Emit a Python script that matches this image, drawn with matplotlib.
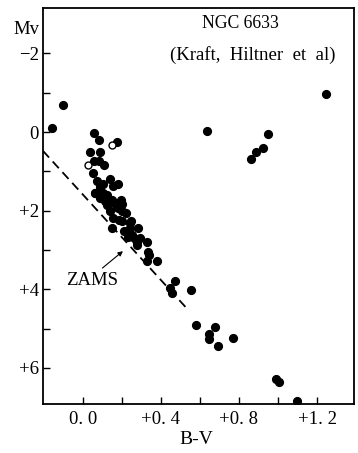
import numpy as np
import matplotlib
matplotlib.use("Agg")
import matplotlib.pyplot as plt

plt.rcParams['font.family'] = ['Liberation Serif', 'DejaVu Serif']

# estrellas (puntos llenos): B-V, Mv
bv = [-0.157, -0.10, 0.058, 0.082, 0.176, 0.036, 0.087, 0.058, 0.084, 0.108,
      0.053, 0.073, 0.138, 0.104, 0.087, 0.155, 0.181, 0.062, 0.087, 0.121,
      0.113, 0.138, 0.164, 0.193, 0.20, 0.18, 0.22, 0.155, 0.186, 0.245,
      0.28, 0.20, 0.24, 0.21, 0.25, 0.27, 0.29, 0.275, 0.327, 0.335,
      0.34, 0.33, 0.38, 0.062, 0.104, 0.147, 0.121, 0.172, 0.138, 0.20,
      0.147, 0.241, 0.259, 0.231, 0.277, 0.472, 0.446, 0.455, 0.552, 0.58,
      0.677, 0.648, 0.648, 0.694, 0.771, 0.99, 1.007, 1.10,
      0.634, 0.95, 0.925, 0.886, 0.86, 1.245]
mv = [-0.10, -0.69, 0.03, 0.20, 0.25, 0.52, 0.52, 0.74, 0.75, 0.84,
      1.05, 1.25, 1.20, 1.33, 1.41, 1.38, 1.33, 1.54, 1.67, 1.59,
      1.76, 1.72, 1.80, 1.72, 1.82, 1.93, 2.06, 2.19, 2.25, 2.27,
      2.43, 2.27, 2.32, 2.53, 2.62, 2.74, 2.70, 2.87, 2.79, 3.04,
      3.13, 3.27, 3.28, 1.54, 1.54, 1.72, 1.85, 1.85, 2.00, 2.00,
      2.45, 2.45, 2.66, 2.66, 2.79, 3.79, 3.98, 4.09, 4.03, 4.90,
      4.97, 5.14, 5.26, 5.44, 5.25, 6.29, 6.37, 6.85,
      -0.02, 0.05, 0.41, 0.50, 0.69, -0.97]

# puntos abiertos
bv_open = [0.15, 0.024]
mv_open = [0.33, 0.85]

# ZAMS
zams_bv = [-0.205, 0.535]
zams_mv = [0.48, 4.50]

xticks = [0.0, 0.4, 0.8, 1.2]
xlabels = ['0. 0', '+0. 4', '+0. 8', '+1. 2']
yticks = [-2, 0, 2, 4, 6]
ylabels = ['\u22122', '0', '+2', '+4', '+6']

fig = plt.figure(figsize=(3.58, 4.53), dpi=100)
ax = fig.add_axes([0.120, 0.108, 0.869, 0.874])

ax.plot(zams_bv, zams_mv, 'k--', lw=1.3, dashes=(5, 3))
ax.plot(bv, mv, 'o', color='black', ms=5.6, mec='black')
ax.plot(bv_open, mv_open, 'o', mfc='white', mec='black', ms=5.0, mew=1.0)

ax.annotate('ZAMS', xy=(0.205, 3.03), xytext=(0.045, 3.77),
            ha='center', va='center', fontsize=13.5,
            arrowprops=dict(arrowstyle='-|>', color='black', lw=0.8,
                            shrinkA=1, shrinkB=0, mutation_scale=7,
                            relpos=(0.62, 1.0)))

ax.text(0.805, -2.77, 'NGC 6633', ha='center', va='center', fontsize=12.7)
ax.text(0.87, -1.95, '(Kraft,  Hiltner  et  al)', ha='center', va='center', fontsize=13.5)

ax.set_xlim(-0.205, 1.39)
ax.set_ylim(6.92, -3.15)

ax.set_xticks(xticks)
ax.set_xticklabels(xlabels)
ax.set_xticks([0.2, 0.6, 1.0], minor=True)
ax.set_yticks(yticks)
ax.set_yticklabels(ylabels)
ax.set_yticks([-1, 1, 3, 5], minor=True)
ax.tick_params(which='both', direction='in', length=5, width=1.0, labelsize=13.5,
               top=False, right=False)
ax.tick_params(axis='x', pad=5)
ax.tick_params(axis='y', pad=3)

for s in ax.spines.values():
    s.set_linewidth(1.3)

fig.text(0.075, 0.935, 'Mv', ha='center', va='center', fontsize=13.5)
fig.text(0.548, 0.029, 'B-V', ha='center', va='center', fontsize=14)

fig.savefig('out.png', dpi=100)
